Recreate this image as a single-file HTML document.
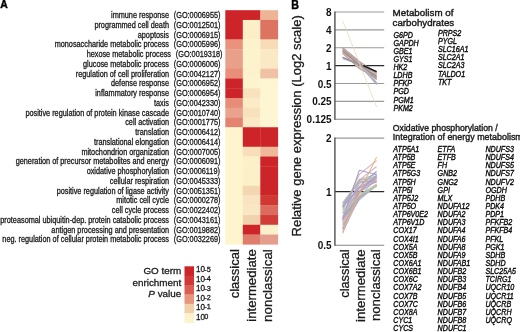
<!DOCTYPE html>
<html><head><meta charset="utf-8"><style>
html,body{margin:0;padding:0;background:#fff;}
body{width:520px;height:332px;overflow:hidden;}
svg{display:block;font-family:"Liberation Sans",Arial,Helvetica,sans-serif;}
</style></head><body>
<svg width="520" height="332" viewBox="0 0 520 332">
<rect width="520" height="332" fill="#fff"/>
<text transform="translate(169.00 18.00) scale(0.8700 1)" font-size="8.4" text-anchor="end" fill="#1a1a1a" stroke="#1a1a1a" stroke-width="0.3">immune response</text>
<text transform="translate(173.80 18.00) scale(0.8700 1)" font-size="8.4" fill="#1a1a1a" stroke="#1a1a1a" stroke-width="0.3">(GO:0006955)</text>
<rect x="225.30" y="10.20" width="17.80" height="10.05" fill="#cc2428"/>
<rect x="242.80" y="10.20" width="17.80" height="10.05" fill="#cc2428"/>
<rect x="260.30" y="10.20" width="17.80" height="10.05" fill="#eeb496"/>
<text transform="translate(169.00 27.75) scale(0.8700 1)" font-size="8.4" text-anchor="end" fill="#1a1a1a" stroke="#1a1a1a" stroke-width="0.3">programmed cell death</text>
<text transform="translate(173.80 27.75) scale(0.8700 1)" font-size="8.4" fill="#1a1a1a" stroke="#1a1a1a" stroke-width="0.3">(GO:0012501)</text>
<rect x="225.30" y="19.95" width="17.80" height="10.05" fill="#cc2428"/>
<rect x="242.80" y="19.95" width="17.80" height="10.05" fill="#fceec6"/>
<rect x="260.30" y="19.95" width="17.80" height="10.05" fill="#dd7462"/>
<text transform="translate(169.00 37.51) scale(0.8700 1)" font-size="8.4" text-anchor="end" fill="#1a1a1a" stroke="#1a1a1a" stroke-width="0.3">apoptosis</text>
<text transform="translate(173.80 37.51) scale(0.8700 1)" font-size="8.4" fill="#1a1a1a" stroke="#1a1a1a" stroke-width="0.3">(GO:0006915)</text>
<rect x="225.30" y="29.71" width="17.80" height="10.05" fill="#cc2428"/>
<rect x="242.80" y="29.71" width="17.80" height="10.05" fill="#fceec6"/>
<rect x="260.30" y="29.71" width="17.80" height="10.05" fill="#dd7462"/>
<text transform="translate(169.00 47.26) scale(0.8700 1)" font-size="8.4" text-anchor="end" fill="#1a1a1a" stroke="#1a1a1a" stroke-width="0.3">monosaccharide metabolic process</text>
<text transform="translate(173.80 47.26) scale(0.8700 1)" font-size="8.4" fill="#1a1a1a" stroke="#1a1a1a" stroke-width="0.3">(GO:0005996)</text>
<rect x="225.30" y="39.46" width="17.80" height="10.05" fill="#ea937c"/>
<rect x="242.80" y="39.46" width="17.80" height="10.05" fill="#fcf2cb"/>
<rect x="260.30" y="39.46" width="17.80" height="10.05" fill="#f8dcb8"/>
<text transform="translate(171.00 57.02) scale(0.8700 1)" font-size="8.4" text-anchor="end" fill="#1a1a1a" stroke="#1a1a1a" stroke-width="0.3">hexose metabolic process</text>
<text transform="translate(175.80 57.02) scale(0.8700 1)" font-size="8.4" fill="#1a1a1a" stroke="#1a1a1a" stroke-width="0.3">(GO:0019318)</text>
<rect x="225.30" y="49.22" width="17.80" height="10.05" fill="#e8a08a"/>
<rect x="242.80" y="49.22" width="17.80" height="10.05" fill="#fcf2cb"/>
<rect x="260.30" y="49.22" width="17.80" height="10.05" fill="#fbe9c5"/>
<text transform="translate(169.00 66.77) scale(0.8700 1)" font-size="8.4" text-anchor="end" fill="#1a1a1a" stroke="#1a1a1a" stroke-width="0.3">glucose metabolic process</text>
<text transform="translate(173.80 66.77) scale(0.8700 1)" font-size="8.4" fill="#1a1a1a" stroke="#1a1a1a" stroke-width="0.3">(GO:0006006)</text>
<rect x="225.30" y="58.97" width="17.80" height="10.05" fill="#e8a08a"/>
<rect x="242.80" y="58.97" width="17.80" height="10.05" fill="#fcf2cb"/>
<rect x="260.30" y="58.97" width="17.80" height="10.05" fill="#fbe9c5"/>
<text transform="translate(169.00 76.52) scale(0.8700 1)" font-size="8.4" text-anchor="end" fill="#1a1a1a" stroke="#1a1a1a" stroke-width="0.3">regulation of cell proliferation</text>
<text transform="translate(173.80 76.52) scale(0.8700 1)" font-size="8.4" fill="#1a1a1a" stroke="#1a1a1a" stroke-width="0.3">(GO:0042127)</text>
<rect x="225.30" y="68.72" width="17.80" height="10.05" fill="#eb8e79"/>
<rect x="242.80" y="68.72" width="17.80" height="10.05" fill="#fcf2cb"/>
<rect x="260.30" y="68.72" width="17.80" height="10.05" fill="#efc2a3"/>
<text transform="translate(169.00 86.28) scale(0.8700 1)" font-size="8.4" text-anchor="end" fill="#1a1a1a" stroke="#1a1a1a" stroke-width="0.3">defense response</text>
<text transform="translate(173.80 86.28) scale(0.8700 1)" font-size="8.4" fill="#1a1a1a" stroke="#1a1a1a" stroke-width="0.3">(GO:0006952)</text>
<rect x="225.30" y="78.48" width="17.80" height="10.05" fill="#cc2428"/>
<rect x="242.80" y="78.48" width="17.80" height="10.05" fill="#fdf3cc"/>
<rect x="260.30" y="78.48" width="17.80" height="10.05" fill="#fef6d2"/>
<text transform="translate(169.00 96.03) scale(0.8700 1)" font-size="8.4" text-anchor="end" fill="#1a1a1a" stroke="#1a1a1a" stroke-width="0.3">inflammatory response</text>
<text transform="translate(173.80 96.03) scale(0.8700 1)" font-size="8.4" fill="#1a1a1a" stroke="#1a1a1a" stroke-width="0.3">(GO:0006954)</text>
<rect x="225.30" y="88.23" width="17.80" height="10.05" fill="#cc2428"/>
<rect x="242.80" y="88.23" width="17.80" height="10.05" fill="#f7e2bd"/>
<rect x="260.30" y="88.23" width="17.80" height="10.05" fill="#fef6d2"/>
<text transform="translate(169.00 105.79) scale(0.8700 1)" font-size="8.4" text-anchor="end" fill="#1a1a1a" stroke="#1a1a1a" stroke-width="0.3">taxis</text>
<text transform="translate(173.80 105.79) scale(0.8700 1)" font-size="8.4" fill="#1a1a1a" stroke="#1a1a1a" stroke-width="0.3">(GO:0042330)</text>
<rect x="225.30" y="97.99" width="17.80" height="10.05" fill="#e68c78"/>
<rect x="242.80" y="97.99" width="17.80" height="10.05" fill="#fbebc6"/>
<rect x="260.30" y="97.99" width="17.80" height="10.05" fill="#fef6d2"/>
<text transform="translate(169.00 115.54) scale(0.8700 1)" font-size="8.4" text-anchor="end" fill="#1a1a1a" stroke="#1a1a1a" stroke-width="0.3">positive regulation of protein kinase cascade</text>
<text transform="translate(173.80 115.54) scale(0.8700 1)" font-size="8.4" fill="#1a1a1a" stroke="#1a1a1a" stroke-width="0.3">(GO:0010740)</text>
<rect x="225.30" y="107.74" width="17.80" height="10.05" fill="#e9a28b"/>
<rect x="242.80" y="107.74" width="17.80" height="10.05" fill="#f8e2be"/>
<rect x="260.30" y="107.74" width="17.80" height="10.05" fill="#fef6d2"/>
<text transform="translate(169.00 125.29) scale(0.8700 1)" font-size="8.4" text-anchor="end" fill="#1a1a1a" stroke="#1a1a1a" stroke-width="0.3">cell activation</text>
<text transform="translate(173.80 125.29) scale(0.8700 1)" font-size="8.4" fill="#1a1a1a" stroke="#1a1a1a" stroke-width="0.3">(GO:0001775)</text>
<rect x="225.30" y="117.49" width="17.80" height="10.05" fill="#e4836f"/>
<rect x="242.80" y="117.49" width="17.80" height="10.05" fill="#fae9c4"/>
<rect x="260.30" y="117.49" width="17.80" height="10.05" fill="#fef6d2"/>
<text transform="translate(169.00 135.05) scale(0.8700 1)" font-size="8.4" text-anchor="end" fill="#1a1a1a" stroke="#1a1a1a" stroke-width="0.3">translation</text>
<text transform="translate(173.80 135.05) scale(0.8700 1)" font-size="8.4" fill="#1a1a1a" stroke="#1a1a1a" stroke-width="0.3">(GO:0006412)</text>
<rect x="225.30" y="127.25" width="17.80" height="10.05" fill="#fef5ce"/>
<rect x="242.80" y="127.25" width="17.80" height="10.05" fill="#cc2428"/>
<rect x="260.30" y="127.25" width="17.80" height="10.05" fill="#cc2428"/>
<text transform="translate(169.00 144.80) scale(0.8700 1)" font-size="8.4" text-anchor="end" fill="#1a1a1a" stroke="#1a1a1a" stroke-width="0.3">translational elongation</text>
<text transform="translate(173.80 144.80) scale(0.8700 1)" font-size="8.4" fill="#1a1a1a" stroke="#1a1a1a" stroke-width="0.3">(GO:0006414)</text>
<rect x="225.30" y="137.00" width="17.80" height="10.05" fill="#fef5ce"/>
<rect x="242.80" y="137.00" width="17.80" height="10.05" fill="#cc2428"/>
<rect x="260.30" y="137.00" width="17.80" height="10.05" fill="#cc2428"/>
<text transform="translate(169.00 154.56) scale(0.8700 1)" font-size="8.4" text-anchor="end" fill="#1a1a1a" stroke="#1a1a1a" stroke-width="0.3">mitochondrion organization</text>
<text transform="translate(173.80 154.56) scale(0.8700 1)" font-size="8.4" fill="#1a1a1a" stroke="#1a1a1a" stroke-width="0.3">(GO:0007005)</text>
<rect x="225.30" y="146.76" width="17.80" height="10.05" fill="#fef5ce"/>
<rect x="242.80" y="146.76" width="17.80" height="10.05" fill="#f9dfb9"/>
<rect x="260.30" y="146.76" width="17.80" height="10.05" fill="#eeb99b"/>
<text transform="translate(169.00 164.31) scale(0.8700 1)" font-size="8.4" text-anchor="end" fill="#1a1a1a" stroke="#1a1a1a" stroke-width="0.3">generation of precursor metabolites and energy</text>
<text transform="translate(173.80 164.31) scale(0.8700 1)" font-size="8.4" fill="#1a1a1a" stroke="#1a1a1a" stroke-width="0.3">(GO:0006091)</text>
<rect x="225.30" y="156.51" width="17.80" height="10.05" fill="#fef5ce"/>
<rect x="242.80" y="156.51" width="17.80" height="10.05" fill="#fcf0c8"/>
<rect x="260.30" y="156.51" width="17.80" height="10.05" fill="#cc2428"/>
<text transform="translate(169.00 174.06) scale(0.8700 1)" font-size="8.4" text-anchor="end" fill="#1a1a1a" stroke="#1a1a1a" stroke-width="0.3">oxidative phosphorylation</text>
<text transform="translate(173.80 174.06) scale(0.8700 1)" font-size="8.4" fill="#1a1a1a" stroke="#1a1a1a" stroke-width="0.3">(GO:0006119)</text>
<rect x="225.30" y="166.26" width="17.80" height="10.05" fill="#fef5ce"/>
<rect x="242.80" y="166.26" width="17.80" height="10.05" fill="#fcf0c8"/>
<rect x="260.30" y="166.26" width="17.80" height="10.05" fill="#cc2428"/>
<text transform="translate(169.00 183.82) scale(0.8700 1)" font-size="8.4" text-anchor="end" fill="#1a1a1a" stroke="#1a1a1a" stroke-width="0.3">cellular respiration</text>
<text transform="translate(173.80 183.82) scale(0.8700 1)" font-size="8.4" fill="#1a1a1a" stroke="#1a1a1a" stroke-width="0.3">(GO:0045333)</text>
<rect x="225.30" y="176.02" width="17.80" height="10.05" fill="#fef5ce"/>
<rect x="242.80" y="176.02" width="17.80" height="10.05" fill="#fcf0c8"/>
<rect x="260.30" y="176.02" width="17.80" height="10.05" fill="#cc2428"/>
<text transform="translate(169.00 193.57) scale(0.8700 1)" font-size="8.4" text-anchor="end" fill="#1a1a1a" stroke="#1a1a1a" stroke-width="0.3">positive regulation of ligase activity</text>
<text transform="translate(173.80 193.57) scale(0.8700 1)" font-size="8.4" fill="#1a1a1a" stroke="#1a1a1a" stroke-width="0.3">(GO:0051351)</text>
<rect x="225.30" y="185.77" width="17.80" height="10.05" fill="#fef5ce"/>
<rect x="242.80" y="185.77" width="17.80" height="10.05" fill="#f3d6b2"/>
<rect x="260.30" y="185.77" width="17.80" height="10.05" fill="#cc2428"/>
<text transform="translate(169.00 203.33) scale(0.8700 1)" font-size="8.4" text-anchor="end" fill="#1a1a1a" stroke="#1a1a1a" stroke-width="0.3">mitotic cell cycle</text>
<text transform="translate(173.80 203.33) scale(0.8700 1)" font-size="8.4" fill="#1a1a1a" stroke="#1a1a1a" stroke-width="0.3">(GO:0000278)</text>
<rect x="225.30" y="195.53" width="17.80" height="10.05" fill="#fef5ce"/>
<rect x="242.80" y="195.53" width="17.80" height="10.05" fill="#f8e4c0"/>
<rect x="260.30" y="195.53" width="17.80" height="10.05" fill="#d03834"/>
<text transform="translate(169.00 213.08) scale(0.8700 1)" font-size="8.4" text-anchor="end" fill="#1a1a1a" stroke="#1a1a1a" stroke-width="0.3">cell cycle process</text>
<text transform="translate(173.80 213.08) scale(0.8700 1)" font-size="8.4" fill="#1a1a1a" stroke="#1a1a1a" stroke-width="0.3">(GO:0022402)</text>
<rect x="225.30" y="205.28" width="17.80" height="10.05" fill="#fef5ce"/>
<rect x="242.80" y="205.28" width="17.80" height="10.05" fill="#f9e6c2"/>
<rect x="260.30" y="205.28" width="17.80" height="10.05" fill="#dd6a5e"/>
<text transform="translate(169.00 222.83) scale(0.8700 1)" font-size="8.4" text-anchor="end" fill="#1a1a1a" stroke="#1a1a1a" stroke-width="0.3">proteasomal ubiquitin-dep. protein catabolic process</text>
<text transform="translate(173.80 222.83) scale(0.8700 1)" font-size="8.4" fill="#1a1a1a" stroke="#1a1a1a" stroke-width="0.3">(GO:0043161)</text>
<rect x="225.30" y="215.03" width="17.80" height="10.05" fill="#fef5ce"/>
<rect x="242.80" y="215.03" width="17.80" height="10.05" fill="#f1d2ae"/>
<rect x="260.30" y="215.03" width="17.80" height="10.05" fill="#d23c38"/>
<text transform="translate(169.00 232.59) scale(0.8700 1)" font-size="8.4" text-anchor="end" fill="#1a1a1a" stroke="#1a1a1a" stroke-width="0.3">antigen processing and presentation</text>
<text transform="translate(173.80 232.59) scale(0.8700 1)" font-size="8.4" fill="#1a1a1a" stroke="#1a1a1a" stroke-width="0.3">(GO:0019882)</text>
<rect x="225.30" y="224.79" width="17.80" height="10.05" fill="#fef5ce"/>
<rect x="242.80" y="224.79" width="17.80" height="10.05" fill="#cd2529"/>
<rect x="260.30" y="224.79" width="17.80" height="10.05" fill="#fcefcb"/>
<text transform="translate(169.00 242.34) scale(0.8700 1)" font-size="8.4" text-anchor="end" fill="#1a1a1a" stroke="#1a1a1a" stroke-width="0.3">neg. regulation of cellular protein metabolic process</text>
<text transform="translate(173.80 242.34) scale(0.8700 1)" font-size="8.4" fill="#1a1a1a" stroke="#1a1a1a" stroke-width="0.3">(GO:0032269)</text>
<rect x="225.30" y="234.54" width="17.80" height="10.05" fill="#fef5ce"/>
<rect x="242.80" y="234.54" width="17.80" height="10.05" fill="#df7c6b"/>
<rect x="260.30" y="234.54" width="17.80" height="10.05" fill="#e59e8b"/>
<text transform="translate(239.30 249.20) rotate(-90)" font-size="13.0" text-anchor="end" fill="#1a1a1a" stroke="#1a1a1a" stroke-width="0.3">classical</text>
<text transform="translate(255.60 249.20) rotate(-90)" font-size="13.2" text-anchor="end" fill="#1a1a1a" stroke="#1a1a1a" stroke-width="0.3">intermediate</text>
<text transform="translate(272.00 249.20) rotate(-90)" font-size="13.35" text-anchor="end" fill="#1a1a1a" stroke="#1a1a1a" stroke-width="0.3">nonclassical</text>
<rect x="184.5" y="266.30" width="9.5" height="9.68" fill="#cc2428"/>
<text transform="translate(195.90 272.40) scale(0.9200 1)" font-size="8.8" fill="#1a1a1a" stroke="#1a1a1a" stroke-width="0.3">10</text>
<text transform="translate(204.30 271.60) scale(0.9500 1)" font-size="7.7" fill="#1a1a1a" stroke="#1a1a1a" stroke-width="0.3">-5</text>
<rect x="184.5" y="275.68" width="9.5" height="9.68" fill="#d2383a"/>
<text transform="translate(195.90 281.85) scale(0.9200 1)" font-size="8.8" fill="#1a1a1a" stroke="#1a1a1a" stroke-width="0.3">10</text>
<text transform="translate(204.30 281.05) scale(0.9500 1)" font-size="7.7" fill="#1a1a1a" stroke="#1a1a1a" stroke-width="0.3">-4</text>
<rect x="184.5" y="285.06" width="9.5" height="9.68" fill="#da5e52"/>
<text transform="translate(195.90 291.30) scale(0.9200 1)" font-size="8.8" fill="#1a1a1a" stroke="#1a1a1a" stroke-width="0.3">10</text>
<text transform="translate(204.30 290.50) scale(0.9500 1)" font-size="7.7" fill="#1a1a1a" stroke="#1a1a1a" stroke-width="0.3">-3</text>
<rect x="184.5" y="294.44" width="9.5" height="9.68" fill="#e6957f"/>
<text transform="translate(195.90 300.75) scale(0.9200 1)" font-size="8.8" fill="#1a1a1a" stroke="#1a1a1a" stroke-width="0.3">10</text>
<text transform="translate(204.30 299.95) scale(0.9500 1)" font-size="7.7" fill="#1a1a1a" stroke="#1a1a1a" stroke-width="0.3">-2</text>
<rect x="184.5" y="303.82" width="9.5" height="9.68" fill="#f0d0a8"/>
<text transform="translate(195.90 310.20) scale(0.9200 1)" font-size="8.8" fill="#1a1a1a" stroke="#1a1a1a" stroke-width="0.3">10</text>
<text transform="translate(204.30 309.40) scale(0.9500 1)" font-size="7.7" fill="#1a1a1a" stroke="#1a1a1a" stroke-width="0.3">-1</text>
<rect x="184.5" y="313.20" width="9.5" height="9.68" fill="#fcf2cb"/>
<text transform="translate(195.90 319.65) scale(0.9200 1)" font-size="8.8" fill="#1a1a1a" stroke="#1a1a1a" stroke-width="0.3">10</text>
<text transform="translate(204.30 318.85) scale(0.9500 1)" font-size="7.7" fill="#1a1a1a" stroke="#1a1a1a" stroke-width="0.3">0</text>
<text transform="translate(181.30 274.20)" font-size="9.9" text-anchor="end" fill="#1a1a1a" stroke="#1a1a1a" stroke-width="0.3">GO term</text>
<text transform="translate(181.30 285.50)" font-size="9.9" text-anchor="end" fill="#1a1a1a" stroke="#1a1a1a" stroke-width="0.3">enrichment</text>
<text transform="translate(181.3 297.0)" font-size="9.9" text-anchor="end" fill="#1a1a1a" stroke="#1a1a1a" stroke-width="0.3"><tspan font-style="italic">P</tspan> value</text>
<text transform="translate(0.30 8.00) scale(0.9000 1)" font-size="11.5" font-weight="bold" fill="#000" stroke="#000" stroke-width="0.45">A</text>
<text transform="translate(291.30 8.90) scale(0.8600 1)" font-size="12.4" font-weight="bold" fill="#000" stroke="#000" stroke-width="0.45">B</text>
<text transform="translate(300.80 236.40) rotate(-90)" font-size="13.0" fill="#1a1a1a" stroke="#1a1a1a" stroke-width="0.3">Relative gene expression (Log2 scale)</text>
<line x1="334.9" x2="384.2" y1="12.01" y2="12.01" stroke="#9a9a9a" stroke-width="1.1"/>
<text transform="translate(331.60 16.01)" font-size="10.0" font-weight="bold" text-anchor="end" fill="#111" stroke="#111" stroke-width="0">8</text>
<line x1="334.9" x2="384.2" y1="29.89" y2="29.89" stroke="#9a9a9a" stroke-width="1.1"/>
<text transform="translate(331.60 33.89)" font-size="10.0" font-weight="bold" text-anchor="end" fill="#111" stroke="#111" stroke-width="0">4</text>
<line x1="334.9" x2="384.2" y1="47.77" y2="47.77" stroke="#9a9a9a" stroke-width="1.1"/>
<text transform="translate(331.60 51.77)" font-size="10.0" font-weight="bold" text-anchor="end" fill="#111" stroke="#111" stroke-width="0">2</text>
<line x1="334.9" x2="384.2" y1="65.65" y2="65.65" stroke="#2a2a2a" stroke-width="1.3"/>
<text transform="translate(331.60 69.65)" font-size="10.0" font-weight="bold" text-anchor="end" fill="#111" stroke="#111" stroke-width="0">1</text>
<line x1="334.9" x2="384.2" y1="83.53" y2="83.53" stroke="#9a9a9a" stroke-width="1.1"/>
<text transform="translate(331.60 87.53)" font-size="10.0" font-weight="bold" text-anchor="end" fill="#111" stroke="#111" stroke-width="0">0.5</text>
<line x1="334.9" x2="384.2" y1="101.41" y2="101.41" stroke="#9a9a9a" stroke-width="1.1"/>
<text transform="translate(331.60 105.41)" font-size="10.0" font-weight="bold" text-anchor="end" fill="#111" stroke="#111" stroke-width="0">0.25</text>
<line x1="334.9" x2="384.2" y1="119.29" y2="119.29" stroke="#858585" stroke-width="1.1"/>
<text transform="translate(331.60 123.29)" font-size="10.0" font-weight="bold" text-anchor="end" fill="#111" stroke="#111" stroke-width="0">0.125</text>
<line x1="334.9" x2="334.9" y1="11.51" y2="119.79" stroke="#505050" stroke-width="1.4"/>
<line x1="334.9" x2="384.2" y1="138.10" y2="138.10" stroke="#9a9a9a" stroke-width="1.1"/>
<text transform="translate(331.60 142.10)" font-size="10.0" font-weight="bold" text-anchor="end" fill="#111" stroke="#111" stroke-width="0">2</text>
<line x1="334.9" x2="384.2" y1="191.70" y2="191.70" stroke="#2a2a2a" stroke-width="1.3"/>
<text transform="translate(331.60 195.70)" font-size="10.0" font-weight="bold" text-anchor="end" fill="#111" stroke="#111" stroke-width="0">1</text>
<line x1="334.9" x2="384.2" y1="245.30" y2="245.30" stroke="#858585" stroke-width="1.1"/>
<text transform="translate(331.60 249.30)" font-size="10.0" font-weight="bold" text-anchor="end" fill="#111" stroke="#111" stroke-width="0">0.5</text>
<line x1="334.9" x2="334.9" y1="137.60" y2="245.80" stroke="#505050" stroke-width="1.4"/>
<polyline points="342.7,50.9 359.3,65.4 376.6,83.2" fill="none" stroke="#c9a0a0" stroke-width="1.2" stroke-opacity="0.8"/>
<polyline points="342.7,50.6 359.3,65.1 376.6,78.3" fill="none" stroke="#b89090" stroke-width="1.2" stroke-opacity="0.8"/>
<polyline points="342.7,50.6 359.3,64.9 376.6,72.9" fill="none" stroke="#a8a8a8" stroke-width="1.2" stroke-opacity="0.8"/>
<polyline points="342.7,53.0 359.3,68.0 376.6,79.1" fill="none" stroke="#d8c4c4" stroke-width="1.2" stroke-opacity="0.8"/>
<polyline points="342.7,48.9 359.3,63.1 376.6,79.6" fill="none" stroke="#a08070" stroke-width="1.2" stroke-opacity="0.8"/>
<polyline points="342.7,47.9 359.3,61.5 376.6,82.6" fill="none" stroke="#bfa8a8" stroke-width="1.2" stroke-opacity="0.8"/>
<polyline points="342.7,52.6 359.3,68.3 376.6,75.2" fill="none" stroke="#c8b0a0" stroke-width="1.2" stroke-opacity="0.8"/>
<polyline points="342.7,53.2 359.3,68.5 376.6,77.8" fill="none" stroke="#989898" stroke-width="1.2" stroke-opacity="0.8"/>
<polyline points="342.7,53.3 359.3,68.1 376.6,76.0" fill="none" stroke="#d0a8a8" stroke-width="1.2" stroke-opacity="0.8"/>
<polyline points="342.7,48.7 359.3,63.3 376.6,74.2" fill="none" stroke="#b0a0a0" stroke-width="1.2" stroke-opacity="0.8"/>
<polyline points="342.7,50.6 359.3,64.9 376.6,84.1" fill="none" stroke="#c9a0a0" stroke-width="1.2" stroke-opacity="0.8"/>
<polyline points="342.7,47.8 359.3,61.4 376.6,72.4" fill="none" stroke="#b89090" stroke-width="1.2" stroke-opacity="0.8"/>
<polyline points="342.7,49.4 359.3,64.5 376.6,77.9" fill="none" stroke="#a8a8a8" stroke-width="1.2" stroke-opacity="0.8"/>
<polyline points="342.7,51.8 359.3,67.4 376.6,73.1" fill="none" stroke="#d8c4c4" stroke-width="1.2" stroke-opacity="0.8"/>
<polyline points="342.7,51.2 359.3,65.1 376.6,76.5" fill="none" stroke="#a08070" stroke-width="1.2" stroke-opacity="0.8"/>
<polyline points="342.7,48.0 359.3,61.9 376.6,84.4" fill="none" stroke="#bfa8a8" stroke-width="1.2" stroke-opacity="0.8"/>
<polyline points="342.7,57.6 359.3,64.8 376.6,72.8" fill="none" stroke="#8a9098" stroke-width="1" stroke-opacity="0.9"/>
<polyline points="342.7,58.9 359.3,64.2 376.6,84.4" fill="none" stroke="#9ab0d0" stroke-width="1" stroke-opacity="0.9"/>
<polyline points="342.7,58.1 359.3,63.9 376.6,82.6" fill="none" stroke="#a8c0e0" stroke-width="1" stroke-opacity="0.9"/>
<polyline points="342.7,57.1 359.3,65.3 376.6,75.5" fill="none" stroke="#b09080" stroke-width="1" stroke-opacity="0.9"/>
<polyline points="342.7,57.2 359.3,64.2 376.6,71.6" fill="none" stroke="#909090" stroke-width="1"/>
<polyline points="363.3,65.7 376.6,71.6" fill="none" stroke="#151515" stroke-width="1.3"/>
<polyline points="342.7,20.8 376.6,107" fill="none" stroke="#e4d8b4" stroke-width="0.75"/>
<polyline points="342.7,210.2 359.3,174.4 376.6,160.6" fill="none" stroke="#c8a0b8" stroke-width="1.1" stroke-opacity="0.8"/>
<polyline points="342.7,207.5 359.3,188.1 376.6,182.0" fill="none" stroke="#a898c8" stroke-width="1.1" stroke-opacity="0.8"/>
<polyline points="342.7,202.7 359.3,181.7 376.6,182.2" fill="none" stroke="#d8a8b0" stroke-width="1.1" stroke-opacity="0.8"/>
<polyline points="342.7,213.9 359.3,183.5 376.6,175.4" fill="none" stroke="#98a8d0" stroke-width="1.1" stroke-opacity="0.8"/>
<polyline points="342.7,224.6 359.3,199.9 376.6,185.3" fill="none" stroke="#b8a0c8" stroke-width="1.1" stroke-opacity="0.8"/>
<polyline points="342.7,206.9 359.3,179.7 376.6,179.8" fill="none" stroke="#e0b098" stroke-width="1.1" stroke-opacity="0.8"/>
<polyline points="342.7,210.4 359.3,191.6 376.6,177.9" fill="none" stroke="#a8c8a0" stroke-width="1.1" stroke-opacity="0.8"/>
<polyline points="342.7,220.0 359.3,180.2 376.6,166.5" fill="none" stroke="#c8a8c0" stroke-width="1.1" stroke-opacity="0.8"/>
<polyline points="342.7,218.1 359.3,187.8 376.6,177.8" fill="none" stroke="#a0a8c8" stroke-width="1.1" stroke-opacity="0.8"/>
<polyline points="342.7,220.1 359.3,186.5 376.6,171.1" fill="none" stroke="#d8a0a0" stroke-width="1.1" stroke-opacity="0.8"/>
<polyline points="342.7,203.9 359.3,181.7 376.6,181.2" fill="none" stroke="#b0a8d0" stroke-width="1.1" stroke-opacity="0.8"/>
<polyline points="342.7,221.5 359.3,196.3 376.6,185.3" fill="none" stroke="#c0b0d0" stroke-width="1.1" stroke-opacity="0.8"/>
<polyline points="342.7,224.9 359.3,198.8 376.6,185.3" fill="none" stroke="#c8a0b8" stroke-width="1.1" stroke-opacity="0.8"/>
<polyline points="342.7,205.6 359.3,180.1 376.6,173.7" fill="none" stroke="#a898c8" stroke-width="1.1" stroke-opacity="0.8"/>
<polyline points="342.7,208.3 359.3,179.0 376.6,181.3" fill="none" stroke="#d8a8b0" stroke-width="1.1" stroke-opacity="0.8"/>
<polyline points="342.7,207.2 359.3,188.1 376.6,176.0" fill="none" stroke="#98a8d0" stroke-width="1.1" stroke-opacity="0.8"/>
<polyline points="342.7,216.3 359.3,197.3 376.6,185.3" fill="none" stroke="#b8a0c8" stroke-width="1.1" stroke-opacity="0.8"/>
<polyline points="342.7,220.7 359.3,197.7 376.6,185.3" fill="none" stroke="#e0b098" stroke-width="1.1" stroke-opacity="0.8"/>
<polyline points="342.7,203.0 359.3,180.6 376.6,176.6" fill="none" stroke="#a8c8a0" stroke-width="1.1" stroke-opacity="0.8"/>
<polyline points="342.7,212.6 359.3,191.5 376.6,180.1" fill="none" stroke="#c8a8c0" stroke-width="1.1" stroke-opacity="0.8"/>
<polyline points="342.7,206.1 359.3,186.6 376.6,171.5" fill="none" stroke="#a0a8c8" stroke-width="1.1" stroke-opacity="0.8"/>
<polyline points="342.7,222.8 359.3,190.9 376.6,176.4" fill="none" stroke="#d8a0a0" stroke-width="1.1" stroke-opacity="0.8"/>
<polyline points="342.7,228.4 359.3,187.4 376.6,179.0" fill="none" stroke="#c8a0b8" stroke-width="1.1" stroke-opacity="0.8"/>
<polyline points="342.7,228.8 359.3,195.5 376.6,184.0" fill="none" stroke="#e0b098" stroke-width="1.1" stroke-opacity="0.8"/>
<polyline points="342.7,232.3 359.3,197.7 376.6,177.1" fill="none" stroke="#b0a8d0" stroke-width="1.1" stroke-opacity="0.8"/>
<polyline points="342.7,218.5 359.3,197.6 376.6,185.7" fill="none" stroke="#98a8d0" stroke-width="1.1" stroke-opacity="0.8"/>
<polyline points="342.7,218.7 359.3,192.6 376.6,180.9" fill="none" stroke="#a0a8c8" stroke-width="1.1" stroke-opacity="0.8"/>
<polyline points="342.7,229.9 359.3,191.8 376.6,175.3" fill="none" stroke="#a898c8" stroke-width="1.1" stroke-opacity="0.8"/>
<polyline points="342.7,226.7 359.3,194.1 376.6,185.6" fill="none" stroke="#a8c8a0" stroke-width="1.1" stroke-opacity="0.8"/>
<polyline points="342.7,218.5 359.3,170.3 376.6,174.5" fill="none" stroke="#a8a0c8" stroke-width="1.1"/>
<polyline points="342.7,213.1 359.3,196.0 376.6,186.3" fill="none" stroke="#a8d0a0" stroke-width="1"/>
<polyline points="342.7,233.5 359.3,192.8 376.6,156.9" fill="none" stroke="#e8a868" stroke-width="1" stroke-opacity="0.85"/>
<text transform="translate(348.60 249.40) rotate(-90)" font-size="12.8" text-anchor="end" fill="#1a1a1a" stroke="#1a1a1a" stroke-width="0.3">classical</text>
<text transform="translate(364.70 249.40) rotate(-90)" font-size="13.2" text-anchor="end" fill="#1a1a1a" stroke="#1a1a1a" stroke-width="0.3">intermediate</text>
<text transform="translate(380.40 249.40) rotate(-90)" font-size="13.15" text-anchor="end" fill="#1a1a1a" stroke="#1a1a1a" stroke-width="0.3">nonclassical</text>
<text transform="translate(392.60 16.10)" font-size="9.8" fill="#1a1a1a" stroke="#1a1a1a" stroke-width="0.42" textLength="60.8" lengthAdjust="spacingAndGlyphs">Metabolism of</text>
<text transform="translate(392.60 25.70)" font-size="9.8" fill="#1a1a1a" stroke="#1a1a1a" stroke-width="0.42" textLength="61.6" lengthAdjust="spacingAndGlyphs">carbohydrates</text>
<text transform="translate(393.40 37.70) scale(0.8300 1)" font-size="8.6" font-style="italic" fill="#0a0a0a" stroke="#0a0a0a" stroke-width="0.38">G6PD</text>
<text transform="translate(393.40 45.80) scale(0.8300 1)" font-size="8.6" font-style="italic" fill="#0a0a0a" stroke="#0a0a0a" stroke-width="0.38">GAPDH</text>
<text transform="translate(393.40 53.90) scale(0.8300 1)" font-size="8.6" font-style="italic" fill="#0a0a0a" stroke="#0a0a0a" stroke-width="0.38">GBE1</text>
<text transform="translate(393.40 62.00) scale(0.8300 1)" font-size="8.6" font-style="italic" fill="#0a0a0a" stroke="#0a0a0a" stroke-width="0.38">GYS1</text>
<text transform="translate(393.40 70.10) scale(0.8300 1)" font-size="8.6" font-style="italic" fill="#0a0a0a" stroke="#0a0a0a" stroke-width="0.38">HK2</text>
<text transform="translate(393.40 78.20) scale(0.8300 1)" font-size="8.6" font-style="italic" fill="#0a0a0a" stroke="#0a0a0a" stroke-width="0.38">LDHB</text>
<text transform="translate(393.40 86.30) scale(0.8300 1)" font-size="8.6" font-style="italic" fill="#0a0a0a" stroke="#0a0a0a" stroke-width="0.38">PFKP</text>
<text transform="translate(393.40 94.40) scale(0.8300 1)" font-size="8.6" font-style="italic" fill="#0a0a0a" stroke="#0a0a0a" stroke-width="0.38">PGD</text>
<text transform="translate(393.40 102.50) scale(0.8300 1)" font-size="8.6" font-style="italic" fill="#0a0a0a" stroke="#0a0a0a" stroke-width="0.38">PGM1</text>
<text transform="translate(393.40 110.60) scale(0.8300 1)" font-size="8.6" font-style="italic" fill="#0a0a0a" stroke="#0a0a0a" stroke-width="0.38">PKM2</text>
<text transform="translate(437.90 36.00) scale(0.8300 1)" font-size="8.6" font-style="italic" fill="#0a0a0a" stroke="#0a0a0a" stroke-width="0.38">PRPS2</text>
<text transform="translate(437.90 44.10) scale(0.8300 1)" font-size="8.6" font-style="italic" fill="#0a0a0a" stroke="#0a0a0a" stroke-width="0.38">PYGL</text>
<text transform="translate(437.90 52.20) scale(0.8300 1)" font-size="8.6" font-style="italic" fill="#0a0a0a" stroke="#0a0a0a" stroke-width="0.38">SLC16A1</text>
<text transform="translate(437.90 60.30) scale(0.8300 1)" font-size="8.6" font-style="italic" fill="#0a0a0a" stroke="#0a0a0a" stroke-width="0.38">SLC2A1</text>
<text transform="translate(437.90 68.40) scale(0.8300 1)" font-size="8.6" font-style="italic" fill="#0a0a0a" stroke="#0a0a0a" stroke-width="0.38">SLC2A3</text>
<text transform="translate(437.90 76.50) scale(0.8300 1)" font-size="8.6" font-style="italic" fill="#0a0a0a" stroke="#0a0a0a" stroke-width="0.38">TALDO1</text>
<text transform="translate(437.90 84.60) scale(0.8300 1)" font-size="8.6" font-style="italic" fill="#0a0a0a" stroke="#0a0a0a" stroke-width="0.38">TKT</text>
<text transform="translate(392.80 130.80)" font-size="9.8" fill="#1a1a1a" stroke="#1a1a1a" stroke-width="0.42" textLength="104.9" lengthAdjust="spacingAndGlyphs">Oxidative phosphorylation /</text>
<text transform="translate(392.80 139.90)" font-size="9.8" fill="#1a1a1a" stroke="#1a1a1a" stroke-width="0.42" textLength="130" lengthAdjust="spacingAndGlyphs">Integration of energy metabolism</text>
<text transform="translate(393.30 152.00) scale(0.8300 1)" font-size="8.6" font-style="italic" fill="#0a0a0a" stroke="#0a0a0a" stroke-width="0.38">ATP5A1</text>
<text transform="translate(393.30 160.14) scale(0.8300 1)" font-size="8.6" font-style="italic" fill="#0a0a0a" stroke="#0a0a0a" stroke-width="0.38">ATP5B</text>
<text transform="translate(393.30 168.28) scale(0.8300 1)" font-size="8.6" font-style="italic" fill="#0a0a0a" stroke="#0a0a0a" stroke-width="0.38">ATP5E</text>
<text transform="translate(393.30 176.42) scale(0.8300 1)" font-size="8.6" font-style="italic" fill="#0a0a0a" stroke="#0a0a0a" stroke-width="0.38">ATP5G3</text>
<text transform="translate(393.30 184.56) scale(0.8300 1)" font-size="8.6" font-style="italic" fill="#0a0a0a" stroke="#0a0a0a" stroke-width="0.38">ATP5H</text>
<text transform="translate(393.30 192.70) scale(0.8300 1)" font-size="8.6" font-style="italic" fill="#0a0a0a" stroke="#0a0a0a" stroke-width="0.38">ATP5I</text>
<text transform="translate(393.30 200.84) scale(0.8300 1)" font-size="8.6" font-style="italic" fill="#0a0a0a" stroke="#0a0a0a" stroke-width="0.38">ATP5J2</text>
<text transform="translate(393.30 208.98) scale(0.8300 1)" font-size="8.6" font-style="italic" fill="#0a0a0a" stroke="#0a0a0a" stroke-width="0.38">ATP5O</text>
<text transform="translate(393.30 217.12) scale(0.8300 1)" font-size="8.6" font-style="italic" fill="#0a0a0a" stroke="#0a0a0a" stroke-width="0.38">ATP6V0E2</text>
<text transform="translate(393.30 225.26) scale(0.8300 1)" font-size="8.6" font-style="italic" fill="#0a0a0a" stroke="#0a0a0a" stroke-width="0.38">ATP6V1D</text>
<text transform="translate(393.30 233.40) scale(0.8300 1)" font-size="8.6" font-style="italic" fill="#0a0a0a" stroke="#0a0a0a" stroke-width="0.38">COX17</text>
<text transform="translate(393.30 241.54) scale(0.8300 1)" font-size="8.6" font-style="italic" fill="#0a0a0a" stroke="#0a0a0a" stroke-width="0.38">COX4I1</text>
<text transform="translate(393.30 249.68) scale(0.8300 1)" font-size="8.6" font-style="italic" fill="#0a0a0a" stroke="#0a0a0a" stroke-width="0.38">COX5A</text>
<text transform="translate(393.30 257.82) scale(0.8300 1)" font-size="8.6" font-style="italic" fill="#0a0a0a" stroke="#0a0a0a" stroke-width="0.38">COX5B</text>
<text transform="translate(393.30 265.96) scale(0.8300 1)" font-size="8.6" font-style="italic" fill="#0a0a0a" stroke="#0a0a0a" stroke-width="0.38">COX6A1</text>
<text transform="translate(393.30 274.10) scale(0.8300 1)" font-size="8.6" font-style="italic" fill="#0a0a0a" stroke="#0a0a0a" stroke-width="0.38">COX6B1</text>
<text transform="translate(393.30 282.24) scale(0.8300 1)" font-size="8.6" font-style="italic" fill="#0a0a0a" stroke="#0a0a0a" stroke-width="0.38">COX6C</text>
<text transform="translate(393.30 290.38) scale(0.8300 1)" font-size="8.6" font-style="italic" fill="#0a0a0a" stroke="#0a0a0a" stroke-width="0.38">COX7A2</text>
<text transform="translate(393.30 298.52) scale(0.8300 1)" font-size="8.6" font-style="italic" fill="#0a0a0a" stroke="#0a0a0a" stroke-width="0.38">COX7B</text>
<text transform="translate(393.30 306.66) scale(0.8300 1)" font-size="8.6" font-style="italic" fill="#0a0a0a" stroke="#0a0a0a" stroke-width="0.38">COX7C</text>
<text transform="translate(393.30 314.80) scale(0.8300 1)" font-size="8.6" font-style="italic" fill="#0a0a0a" stroke="#0a0a0a" stroke-width="0.38">COX8A</text>
<text transform="translate(393.30 322.94) scale(0.8300 1)" font-size="8.6" font-style="italic" fill="#0a0a0a" stroke="#0a0a0a" stroke-width="0.38">CYC1</text>
<text transform="translate(393.30 331.08) scale(0.8300 1)" font-size="8.6" font-style="italic" fill="#0a0a0a" stroke="#0a0a0a" stroke-width="0.38">CYCS</text>
<text transform="translate(437.60 152.00) scale(0.8300 1)" font-size="8.6" font-style="italic" fill="#0a0a0a" stroke="#0a0a0a" stroke-width="0.38">ETFA</text>
<text transform="translate(437.60 160.14) scale(0.8300 1)" font-size="8.6" font-style="italic" fill="#0a0a0a" stroke="#0a0a0a" stroke-width="0.38">ETFB</text>
<text transform="translate(437.60 168.28) scale(0.8300 1)" font-size="8.6" font-style="italic" fill="#0a0a0a" stroke="#0a0a0a" stroke-width="0.38">FH</text>
<text transform="translate(437.60 176.42) scale(0.8300 1)" font-size="8.6" font-style="italic" fill="#0a0a0a" stroke="#0a0a0a" stroke-width="0.38">GNB2</text>
<text transform="translate(437.60 184.56) scale(0.8300 1)" font-size="8.6" font-style="italic" fill="#0a0a0a" stroke="#0a0a0a" stroke-width="0.38">GNG2</text>
<text transform="translate(437.60 192.70) scale(0.8300 1)" font-size="8.6" font-style="italic" fill="#0a0a0a" stroke="#0a0a0a" stroke-width="0.38">GPI</text>
<text transform="translate(437.60 200.84) scale(0.8300 1)" font-size="8.6" font-style="italic" fill="#0a0a0a" stroke="#0a0a0a" stroke-width="0.38">MLX</text>
<text transform="translate(437.60 208.98) scale(0.8300 1)" font-size="8.6" font-style="italic" fill="#0a0a0a" stroke="#0a0a0a" stroke-width="0.38">NDUFA12</text>
<text transform="translate(437.60 217.12) scale(0.8300 1)" font-size="8.6" font-style="italic" fill="#0a0a0a" stroke="#0a0a0a" stroke-width="0.38">NDUFA2</text>
<text transform="translate(437.60 225.26) scale(0.8300 1)" font-size="8.6" font-style="italic" fill="#0a0a0a" stroke="#0a0a0a" stroke-width="0.38">NDUFA3</text>
<text transform="translate(437.60 233.40) scale(0.8300 1)" font-size="8.6" font-style="italic" fill="#0a0a0a" stroke="#0a0a0a" stroke-width="0.38">NDUFA4</text>
<text transform="translate(437.60 241.54) scale(0.8300 1)" font-size="8.6" font-style="italic" fill="#0a0a0a" stroke="#0a0a0a" stroke-width="0.38">NDUFA6</text>
<text transform="translate(437.60 249.68) scale(0.8300 1)" font-size="8.6" font-style="italic" fill="#0a0a0a" stroke="#0a0a0a" stroke-width="0.38">NDUFA8</text>
<text transform="translate(437.60 257.82) scale(0.8300 1)" font-size="8.6" font-style="italic" fill="#0a0a0a" stroke="#0a0a0a" stroke-width="0.38">NDUFA9</text>
<text transform="translate(437.60 265.96) scale(0.8300 1)" font-size="8.6" font-style="italic" fill="#0a0a0a" stroke="#0a0a0a" stroke-width="0.38">NDUFAB1</text>
<text transform="translate(437.60 274.10) scale(0.8300 1)" font-size="8.6" font-style="italic" fill="#0a0a0a" stroke="#0a0a0a" stroke-width="0.38">NDUFB2</text>
<text transform="translate(437.60 282.24) scale(0.8300 1)" font-size="8.6" font-style="italic" fill="#0a0a0a" stroke="#0a0a0a" stroke-width="0.38">NDUFB3</text>
<text transform="translate(437.60 290.38) scale(0.8300 1)" font-size="8.6" font-style="italic" fill="#0a0a0a" stroke="#0a0a0a" stroke-width="0.38">NDUFB4</text>
<text transform="translate(437.60 298.52) scale(0.8300 1)" font-size="8.6" font-style="italic" fill="#0a0a0a" stroke="#0a0a0a" stroke-width="0.38">NDUFB5</text>
<text transform="translate(437.60 306.66) scale(0.8300 1)" font-size="8.6" font-style="italic" fill="#0a0a0a" stroke="#0a0a0a" stroke-width="0.38">NDUFB6</text>
<text transform="translate(437.60 314.80) scale(0.8300 1)" font-size="8.6" font-style="italic" fill="#0a0a0a" stroke="#0a0a0a" stroke-width="0.38">NDUFB7</text>
<text transform="translate(437.60 322.94) scale(0.8300 1)" font-size="8.6" font-style="italic" fill="#0a0a0a" stroke="#0a0a0a" stroke-width="0.38">NDUFB8</text>
<text transform="translate(437.60 331.08) scale(0.8300 1)" font-size="8.6" font-style="italic" fill="#0a0a0a" stroke="#0a0a0a" stroke-width="0.38">NDUFC1</text>
<text transform="translate(485.40 152.00) scale(0.8300 1)" font-size="8.6" font-style="italic" fill="#0a0a0a" stroke="#0a0a0a" stroke-width="0.38">NDUFS3</text>
<text transform="translate(485.40 160.14) scale(0.8300 1)" font-size="8.6" font-style="italic" fill="#0a0a0a" stroke="#0a0a0a" stroke-width="0.38">NDUFS4</text>
<text transform="translate(485.40 168.28) scale(0.8300 1)" font-size="8.6" font-style="italic" fill="#0a0a0a" stroke="#0a0a0a" stroke-width="0.38">NDUFS5</text>
<text transform="translate(485.40 176.42) scale(0.8300 1)" font-size="8.6" font-style="italic" fill="#0a0a0a" stroke="#0a0a0a" stroke-width="0.38">NDUFS7</text>
<text transform="translate(485.40 184.56) scale(0.8300 1)" font-size="8.6" font-style="italic" fill="#0a0a0a" stroke="#0a0a0a" stroke-width="0.38">NDUFV2</text>
<text transform="translate(485.40 192.70) scale(0.8300 1)" font-size="8.6" font-style="italic" fill="#0a0a0a" stroke="#0a0a0a" stroke-width="0.38">OGDH</text>
<text transform="translate(485.40 200.84) scale(0.8300 1)" font-size="8.6" font-style="italic" fill="#0a0a0a" stroke="#0a0a0a" stroke-width="0.38">PDHB</text>
<text transform="translate(485.40 208.98) scale(0.8300 1)" font-size="8.6" font-style="italic" fill="#0a0a0a" stroke="#0a0a0a" stroke-width="0.38">PDK4</text>
<text transform="translate(485.40 217.12) scale(0.8300 1)" font-size="8.6" font-style="italic" fill="#0a0a0a" stroke="#0a0a0a" stroke-width="0.38">PDP1</text>
<text transform="translate(485.40 225.26) scale(0.8300 1)" font-size="8.6" font-style="italic" fill="#0a0a0a" stroke="#0a0a0a" stroke-width="0.38">PFKFB2</text>
<text transform="translate(485.40 233.40) scale(0.8300 1)" font-size="8.6" font-style="italic" fill="#0a0a0a" stroke="#0a0a0a" stroke-width="0.38">PFKFB4</text>
<text transform="translate(485.40 241.54) scale(0.8300 1)" font-size="8.6" font-style="italic" fill="#0a0a0a" stroke="#0a0a0a" stroke-width="0.38">PFKL</text>
<text transform="translate(485.40 249.68) scale(0.8300 1)" font-size="8.6" font-style="italic" fill="#0a0a0a" stroke="#0a0a0a" stroke-width="0.38">PGK1</text>
<text transform="translate(485.40 257.82) scale(0.8300 1)" font-size="8.6" font-style="italic" fill="#0a0a0a" stroke="#0a0a0a" stroke-width="0.38">SDHB</text>
<text transform="translate(485.40 265.96) scale(0.8300 1)" font-size="8.6" font-style="italic" fill="#0a0a0a" stroke="#0a0a0a" stroke-width="0.38">SDHD</text>
<text transform="translate(485.40 274.10) scale(0.8300 1)" font-size="8.6" font-style="italic" fill="#0a0a0a" stroke="#0a0a0a" stroke-width="0.38">SLC25A5</text>
<text transform="translate(485.40 282.24) scale(0.8300 1)" font-size="8.6" font-style="italic" fill="#0a0a0a" stroke="#0a0a0a" stroke-width="0.38">TCIRG1</text>
<text transform="translate(485.40 290.38) scale(0.8300 1)" font-size="8.6" font-style="italic" fill="#0a0a0a" stroke="#0a0a0a" stroke-width="0.38">UQCR10</text>
<text transform="translate(485.40 298.52) scale(0.8300 1)" font-size="8.6" font-style="italic" fill="#0a0a0a" stroke="#0a0a0a" stroke-width="0.38">UQCR11</text>
<text transform="translate(485.40 306.66) scale(0.8300 1)" font-size="8.6" font-style="italic" fill="#0a0a0a" stroke="#0a0a0a" stroke-width="0.38">UQCRB</text>
<text transform="translate(485.40 314.80) scale(0.8300 1)" font-size="8.6" font-style="italic" fill="#0a0a0a" stroke="#0a0a0a" stroke-width="0.38">UQCRH</text>
<text transform="translate(485.40 322.94) scale(0.8300 1)" font-size="8.6" font-style="italic" fill="#0a0a0a" stroke="#0a0a0a" stroke-width="0.38">UQCRQ</text>
</svg>
</body></html>
